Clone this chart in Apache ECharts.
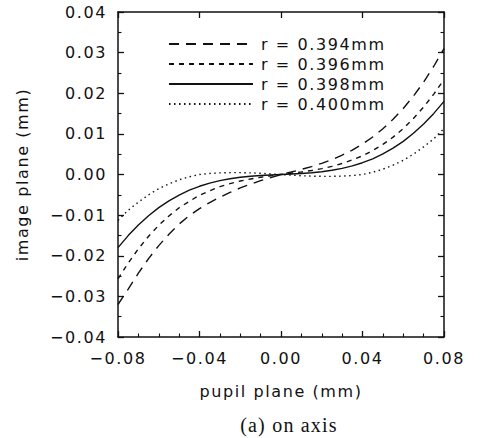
<!DOCTYPE html>
<html><head><meta charset="utf-8">
<script src="https://cdn.jsdelivr.net/npm/echarts@6/dist/echarts.min.js"></script>
<style>
html,body{margin:0;padding:0;background:#fff}
#c{width:480px;height:438px}
#c text{letter-spacing:1.6px}
#c text[style*="Serif"]{letter-spacing:1.2px}
</style>
</head><body><div id="c"></div>
<script>
// pupil-plane coordinate (mm)
var xs = [-0.08,-0.075,-0.07,-0.065,-0.06,-0.055,-0.05,-0.045,-0.04,-0.035,-0.03,-0.025,-0.02,-0.015,-0.01,-0.005,
  0,0.005,0.01,0.015,0.02,0.025,0.03,0.035,0.04,0.045,0.05,0.055,0.06,0.065,0.07,0.075,0.08];
// image-plane coordinate (mm) for each radius
var r394 = [-0.0320,-0.0282,-0.0243,-0.0207,-0.0175,-0.0147,-0.0122,-0.0101,-0.0084,-0.0069,-0.0056,-0.0044,-0.0033,-0.0024,-0.0015,-0.00075,
  0,0.00061,0.00125,0.00195,0.00275,0.00367,0.00475,0.00602,0.0075,0.00924,0.01125,0.01358,0.01626,0.0193,0.02276,0.02665,0.0310];
var r396 = [-0.0257,-0.0218,-0.0183,-0.0152,-0.0125,-0.0102,-0.0082,-0.0066,-0.0051,-0.0040,-0.0030,-0.00224,-0.0016,-0.0011,-0.00068,-0.00033,
  0,0.0003,0.00062,0.0010,0.00145,0.0020,0.0027,0.0036,0.0046,0.0059,0.0074,0.0092,0.0113,0.0138,0.0166,0.0198,0.0234];
var r398 = [-0.0180,-0.01504,-0.01242,-0.01014,-0.00816,-0.00648,-0.00506,-0.00387,-0.0029,-0.00212,-0.00151,-0.00104,-0.00069,-0.00043,-0.00025,-0.00011,
  0,0.00011,0.00025,0.00043,0.00069,0.00104,0.00151,0.00212,0.0029,0.00387,0.00506,0.00648,0.00816,0.01014,0.01242,0.01504,0.0180];
var r400 = [-0.0113,-0.0088,-0.0068,-0.0050,-0.0035,-0.0023,-0.0013,-0.00056,0,0.00025,0.0004,0.00045,0.00045,0.0004,0.0003,0.00015,
  0,-0.00015,-0.0003,-0.0004,-0.00045,-0.00045,-0.0004,-0.00025,0,0.00056,0.0013,0.0023,0.0035,0.0050,0.0068,0.0088,0.0113];
var names = ['r = 0.394mm','r = 0.396mm','r = 0.398mm','r = 0.400mm'];
var xTicks = [-0.08,-0.04,0,0.04,0.08];
var yTicks = [-0.04,-0.03,-0.02,-0.01,0,0.01,0.02,0.03,0.04];

function pairs(v){ return xs.map(function(x,i){ return [x, v[i]]; }); }
function fmt(v){ return v.toFixed(2).replace('-', '\u2212'); }

var FONT = 'DejaVu Sans';
var INK = '#111';
var tickStyle = {show:true, inside:true, length:6, lineStyle:{color:INK, width:1.3}};
var minorStyle = {show:true, length:3.5, lineStyle:{color:INK, width:1.1}};
var lineDash = [[10,7],[5,5],'solid',[1.5,3.5]];
var data = [r394, r396, r398, r400];

var series = data.map(function(v,i){
  return {
    type:'line', name:names[i], data:pairs(v), symbol:'none', showSymbol:false,
    lineStyle:{color:INK, width:1.4, type:lineDash[i]}, itemStyle:{color:INK},
    xAxisIndex:0, yAxisIndex:0, animation:false, silent:true
  };
});

var option = {
  backgroundColor:'#fff',
  animation:false,
  title:{
    text:'(a) on axis', left:284, textAlign:'center', top:410,
    textStyle:{fontFamily:'Liberation Serif', fontSize:20, fontWeight:'normal', color:INK}
  },
  legend:{
    orient:'vertical', left:163, top:31, itemWidth:84, itemHeight:14, itemGap:4,
    data:names,
    itemStyle:{color:'rgba(0,0,0,0)', borderWidth:0, opacity:0},
    textStyle:{fontFamily:FONT, fontSize:16, color:INK, padding:[0,0,0,3]},
    selectedMode:false
  },
  grid:{left:118, right:36, top:12, bottom:101},
  xAxis:[{
    type:'value', min:xTicks[0], max:xTicks[xTicks.length-1], interval:0.04,
    name:'pupil plane (mm)', nameLocation:'middle', nameGap:46,
    nameTextStyle:{fontFamily:FONT, fontSize:16, color:INK},
    axisLine:{show:true, onZero:false, lineStyle:{color:INK, width:1.5}},
    axisTick:tickStyle, minorTick:Object.assign({splitNumber:4}, minorStyle),
    axisLabel:{formatter:fmt, fontFamily:FONT, fontSize:16, color:INK, margin:13},
    splitLine:{show:false}, minorSplitLine:{show:false}
  },{
    type:'value', position:'top', min:xTicks[0], max:xTicks[xTicks.length-1], interval:0.04,
    axisLine:{show:true, onZero:false, lineStyle:{color:INK, width:1.5}},
    axisTick:tickStyle, axisLabel:{show:false}, splitLine:{show:false}
  }],
  yAxis:[{
    type:'value', min:yTicks[0], max:yTicks[yTicks.length-1], interval:0.01,
    name:'image plane (mm)', nameLocation:'middle', nameGap:88, nameRotate:90,
    nameTextStyle:{fontFamily:FONT, fontSize:16, color:INK},
    axisLine:{show:true, onZero:false, lineStyle:{color:INK, width:1.5}},
    axisTick:tickStyle, minorTick:Object.assign({splitNumber:2}, minorStyle),
    axisLabel:{formatter:fmt, fontFamily:FONT, fontSize:16, color:INK, margin:11},
    splitLine:{show:false}, minorSplitLine:{show:false}
  },{
    type:'value', position:'right', min:yTicks[0], max:yTicks[yTicks.length-1], interval:0.01,
    axisLine:{show:true, onZero:false, lineStyle:{color:INK, width:1.5}},
    axisTick:tickStyle, minorTick:Object.assign({splitNumber:2}, minorStyle),
    axisLabel:{show:false}, splitLine:{show:false}, minorSplitLine:{show:false}
  }],
  series:series
};
var chart = echarts.init(document.getElementById('c'), null, {renderer:'svg'});
chart.setOption(option);
</script>
</body></html>
